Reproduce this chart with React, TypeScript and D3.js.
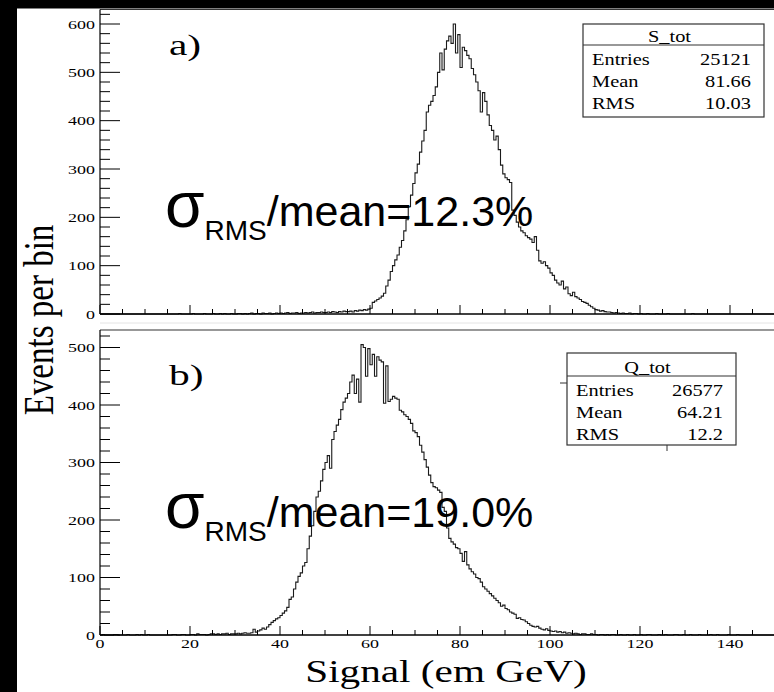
import React from "react";
import * as d3 from "d3";

// ---------- data ----------
const binWidth = 0.5;
const xDomain = [0, 150];
const xTickLabels = [0, 20, 40, 60, 80, 100, 120, 140];

// S_tot histogram (bins of 0.5 from 0 to 150)
const sTotCounts = [
  0,0,0,0,0,0,0,0,0,0, 0,0,0,0,0,0,0,0,0,0, 0,0,0,0,0,0,0,0,0,0, 0,0,0,0,0,1,0,0,0,0,
  0,1,0,0,0,0,1,0,0,0, 1,0,0,1,0,1,0,0,1,0,
  0,1,1,0,1,0,1,2,0,1, 1,0,2,1,1,2,0,1,2,1,
  2,1,2,3,1,2,2,3,1,2, 2,3,2,3,4,2,3,3,4,3,
  3,4,3,5,4,3,5,4,6,5, 5,6,4,7,6,8,7,9,8,10,
  12,24,27,30,33,37,43,58,70,88,
  100,112,122,138,152,172,195,222,246,270,
  292,310,335,358,380,418,432,440,452,470,
  500,540,505,548,565,575,560,600,540,578,
  510,552,545,535,528,508,495,480,462,418,
  458,440,412,390,380,360,368,340,308,290,
  282,278,272,215,204,190,180,172,168,162,
  158,155,148,160,132,110,105,108,100,95,
  85,80,70,64,60,68,52,56,42,38,
  45,36,33,30,26,24,22,18,15,12,
  9,8,6,7,5,4,4,3,2,3,
  2,1,2,1,1,2,0,1,1,0,
  1,0,0,1,0,0,0,1,0,0,
  0,0,1,0,0,0,0,0,0,0, 0,0,0,1,0,0,0,0,0,0, 0,0,0,0,0,0,0,0,0,0,
  0,0,0,0,0,0,0,0,0,0, 0,0,0,0,0,0,0,0,0,0,
];

// Q_tot histogram (bins of 0.5 from 0 to 150)
const qTotCounts = [
  0,1,0,0,0,0,1,1,0,0, 0,0,1,0,0,0,1,0,1,0, 0,1,0,0,0,0,0,0,0,0, 0,0,1,1,0,0,1,1,0,0,
  1,1,0,2,1,1,1,0,1,2, 2,1,2,1,2,2,3,1,2,2,
  2,3,2,3,4,3,3,4,10,5, 7,9,12,10,14,18,22,25,28,30,
  34,38,42,48,62,66,80,92,102,108,
  120,126,150,172,190,215,240,250,268,288,
  300,312,290,340,354,365,375,392,405,412,
  420,440,452,420,445,405,505,500,450,498,
  470,488,450,484,478,475,403,468,406,410,
  415,412,410,391,388,383,380,375,368,355,
  352,345,330,318,305,292,278,265,258,256,
  252,248,222,215,186,168,162,158,152,150,
  142,128,145,122,115,110,106,100,98,92,
  84,80,76,72,68,64,60,56,50,52,
  46,44,40,38,36,29,30,27,26,23,
  20,17,15,14,15,12,10,9,11,8,
  7,6,7,5,6,4,5,3,4,3,
  2,3,2,1,2,2,1,1,2,1,
  1,0,1,1,0,1,0,1,1,0,
  0,1,0,0,1,0,0,1,0,0, 1,0,0,1,1,0,0,0,1,0, 0,1,0,0,0,1,1,0,0,1,
  0,0,1,0,0,0,1,0,0,0, 0,1,0,0,1,0,0,0,0,1, 0,0,0,1,0,0,0,0,0,0,
  0,0,0,0,0,0,0,0,0,0,
];

const statLabels = ["Entries", "Mean", "RMS"];
const sTotStats = ["25121", "81.66", "10.03"];
const qTotStats = ["26577", "64.21", "12.2"];

const topYTicks = [0, 100, 200, 300, 400, 500, 600];
const botYTicks = [0, 100, 200, 300, 400, 500];

// ---------- styling ----------
const SERIF = "'Liberation Serif', 'Times New Roman', serif";
const SANS = "'Liberation Sans', Arial, sans-serif";
const SX = 1.38; // horizontal stretch of the serif lettering

function SText({ x, y, size, anchor = "start", sx = SX, children, family = SERIF }: any) {
  return (
    <text
      transform={`translate(${x},${y}) scale(${sx},1)`}
      fontSize={size}
      fontFamily={family}
      textAnchor={anchor}
      fill="#000"
    >
      {children}
    </text>
  );
}

function Panel({ counts, yMax, yRange, topY, yTickVals, showXLabels, tag, tagY, ratioText, ratioY, box }: any) {
  const x = d3.scaleLinear().domain(xDomain).range([100, 775]);
  const y = d3.scaleLinear().domain([0, yRange[0]]).range([yRange[1], yRange[2]]);
  const y0 = y(0);
  const pts: [number, number][] = counts.map((c: number, i: number) => [x(i * binWidth), y(c)]);
  pts.push([x(xDomain[1]), y(counts[counts.length - 1])]);
  const path = d3.line().curve(d3.curveStepAfter)(pts) || "";
  const xMinor = d3.range(0, 151, 5);
  const yMinor = d3.range(0, yMax + 1, 20);
  return (
    <g>
      {/* frame */}
      <line x1={100} x2={774} y1={topY} y2={topY} stroke="#333" strokeWidth={1.2} />
      <line x1={100} x2={100} y1={topY} y2={y0} stroke="#000" strokeWidth={1.2} />
      {/* histogram */}
      <path d={path} fill="none" stroke="#1a1a1a" strokeWidth={1.1} />
      <line x1={100} x2={774} y1={y0} y2={y0} stroke="#000" strokeWidth={1.4} />
      {/* x ticks */}
      {xMinor.map((v) => (
        <line key={"xt" + v} x1={x(v)} x2={x(v)} y1={y0} y2={y0 - (v % 20 === 0 ? 9 : 5)} stroke="#000" strokeWidth={1} />
      ))}
      {/* y ticks */}
      {yMinor.map((v) => (
        <line key={"yt" + v} x1={100} x2={100 + (v % 100 === 0 ? 20 : 10)} y1={y(v)} y2={y(v)} stroke="#000" strokeWidth={1} />
      ))}
      {yTickVals.map((v: number) => (
        <SText key={"yl" + v} x={95} y={y(v) + 4.5} size={13} anchor="end">{v}</SText>
      ))}
      {showXLabels &&
        xTickLabels.map((v) => (
          <SText key={"xl" + v} x={x(v)} y={y0 + 13} size={13} anchor="middle">{v}</SText>
        ))}
      {/* panel tag */}
      <SText x={169} y={tagY} size={30}>{tag}</SText>
      {/* ratio text */}
      <text x={165} y={ratioY} fontFamily={SANS} fill="#000">
        <tspan fontSize={64}>σ</tspan>
        <tspan fontSize={28} dy={13}>RMS</tspan>
        <tspan fontSize={43} dy={-14}>{ratioText}</tspan>
      </text>
      {/* stats box */}
      <g>
        <rect x={box.x} y={box.y} width={box.w} height={box.h} fill="#fff" stroke="#333" strokeWidth={1.2} />
        <line x1={box.x} x2={box.x + box.w} y1={box.y + box.th} y2={box.y + box.th} stroke="#333" strokeWidth={1.2} />
        <SText x={box.x + box.w / 2 - 4} y={box.y + box.th - 3} size={17} anchor="middle" sx={1.2}>{box.title}</SText>
        {statLabels.map((l, i) => (
          <g key={l}>
            <SText x={box.x + 9} y={box.y + box.th + 20 + i * 22} size={17} sx={1.2}>{l}</SText>
            <SText x={box.x + box.w - 13} y={box.y + box.th + 20 + i * 22} size={17} sx={1.2} anchor="end">{box.values[i]}</SText>
          </g>
        ))}
      </g>
    </g>
  );
}

export default function App() {
  return (
    <svg width={774} height={692} style={{ position: "absolute", left: 0, top: 0, display: "block" }}>
      <rect x={0} y={0} width={774} height={692} fill="#000" />
      <rect x={17} y={8.5} width={757} height={684} fill="#fff" />
      <line x1={100} x2={774} y1={323} y2={323} stroke="#e4e4e4" strokeWidth={1} />
      <Panel
        counts={sTotCounts}
        yMax={620}
        yRange={[600, 314, 24]}
        topY={9.5}
        yTickVals={topYTicks}
        showXLabels={false}
        tag="a)"
        tagY={55}
        ratioText="/mean=12.3%"
        ratioY={227}
        box={{ x: 583, y: 24, w: 181, h: 93, th: 21, title: "S_tot", values: sTotStats }}
      />
      <Panel
        counts={qTotCounts}
        yMax={520}
        yRange={[500, 635, 347.5]}
        topY={330}
        yTickVals={botYTicks}
        showXLabels={true}
        tag="b)"
        tagY={385}
        ratioText="/mean=19.0%"
        ratioY={528}
        box={{ x: 567, y: 353, w: 169, h: 92, th: 23, title: "Q_tot", values: qTotStats }}
      />
      <line x1={560} x2={567} y1={383} y2={383} stroke="#333" strokeWidth={1} />
      <line x1={667} x2={667} y1={445} y2={451} stroke="#333" strokeWidth={1} />
      {/* axis titles */}
      <text
        transform="translate(53,320) rotate(-90) scale(1,1.3)"
        fontSize={33}
        fontFamily={SERIF}
        textAnchor="middle"
        fill="#000"
      >
        Events per bin
      </text>
      <SText x={446} y={682} size={31} anchor="middle" sx={1.33}>Signal (em GeV)</SText>
    </svg>
  );
}
